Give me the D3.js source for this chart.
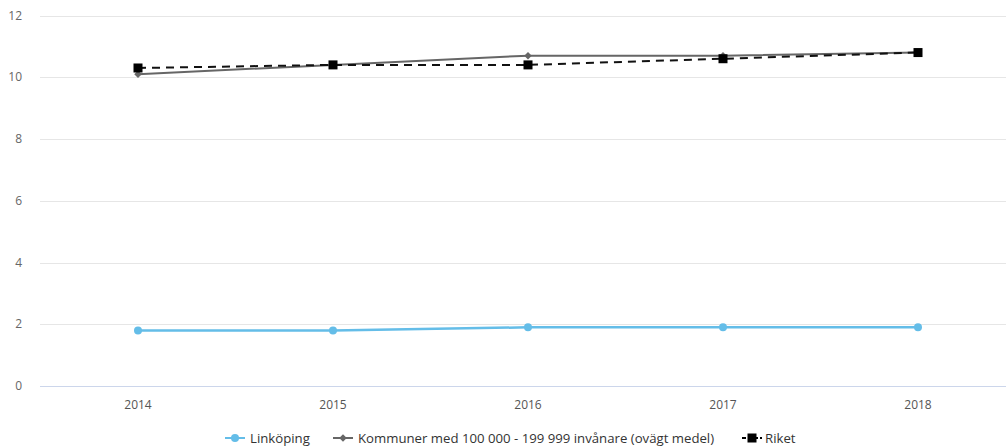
<!DOCTYPE html>
<html><head><meta charset="utf-8">
<script src="https://cdn.jsdelivr.net/npm/d3@7"></script>
<style>body{margin:0;background:#fff;} text{font-family:"Open Sans",sans-serif;}</style>
</head><body><svg id="c" width="1006" height="447"></svg>
<script>
const years = ["2014","2015","2016","2017","2018"];
const linkoping = [1.8, 1.8, 1.9, 1.9, 1.9];
const kommuner = [10.1, 10.4, 10.7, 10.7, 10.8];
const riket = [10.3, 10.4, 10.4, 10.6, 10.8];
const yTicks = [0, 2, 4, 6, 8, 10, 12];
const seriesNames = ["Linköping", "Kommuner med 100 000 - 199 999 invånare (ovägt medel)", "Riket"];

const svg = d3.select("#c");
const x = d3.scalePoint().domain(years).range([40.5, 1015.5]).padding(0.5);
const y = d3.scaleLinear().domain([0, 12]).range([386, 15.5]);

svg.append("g").selectAll("line").data(yTicks).join("line")
  .attr("x1", 40).attr("x2", 1006)
  .attr("y1", d => Math.round(y(d)) + 0.5).attr("y2", d => Math.round(y(d)) + 0.5)
  .attr("stroke", d => d === 0 ? "#ccd6eb" : "#e6e6e6").attr("stroke-width", 1);

svg.append("g").selectAll("text").data(yTicks).join("text")
  .attr("x", 22).attr("y", d => y(d) + 4).attr("text-anchor", "end")
  .attr("font-size", 12).attr("fill", "#666").text(d => d);

svg.append("g").selectAll("text").data(years).join("text")
  .attr("x", d => x(d)).attr("y", 409).attr("text-anchor", "middle")
  .attr("font-size", 12).attr("fill", "#555").text(d => d);

const line = d3.line().x((d, i) => x(years[i])).y(d => y(d));

svg.append("path").datum(linkoping).attr("d", line).attr("fill", "none")
  .attr("stroke", "#64bde8").attr("stroke-width", 2.5);
svg.append("g").selectAll("circle").data(linkoping).join("circle")
  .attr("cx", (d, i) => x(years[i])).attr("cy", d => y(d)).attr("r", 4).attr("fill", "#64bde8");

svg.append("path").datum(kommuner).attr("d", line).attr("fill", "none")
  .attr("stroke", "#666").attr("stroke-width", 2);
const diamond = d3.symbol().type(d3.symbolDiamond2).size(36);
svg.append("g").selectAll("path").data(kommuner).join("path")
  .attr("d", diamond).attr("transform", (d, i) => `translate(${x(years[i])},${y(d)})`).attr("fill", "#666");

svg.append("path").datum(riket).attr("d", line).attr("fill", "none")
  .attr("stroke", "#111").attr("stroke-width", 2).attr("stroke-dasharray", "8,6");
svg.append("g").selectAll("rect").data(riket).join("rect")
  .attr("x", (d, i) => x(years[i]) - 4.5).attr("y", d => y(d) - 4.5)
  .attr("width", 9).attr("height", 9).attr("fill", "#000");

const leg = svg.append("g");
const lx = [225, 333, 742];
const colors = ["#64bde8", "#666", "#000"];
seriesNames.forEach((n, i) => {
  const g = leg.append("g").attr("transform", `translate(${lx[i]},438)`);
  g.append("line").attr("x1", 0).attr("x2", 20).attr("y1", 0).attr("y2", 0)
    .attr("stroke", colors[i]).attr("stroke-width", 2).attr("stroke-dasharray", i === 2 ? "4,2" : null);
  if (i === 0) g.append("circle").attr("cx", 10).attr("cy", 0).attr("r", 4).attr("fill", colors[i]);
  if (i === 1) g.append("path").attr("d", diamond).attr("transform", "translate(10,0)").attr("fill", colors[i]);
  if (i === 2) g.append("rect").attr("x", 5.5).attr("y", -4.5).attr("width", 9).attr("height", 9).attr("fill", colors[i]);
  g.append("text").attr("x", i === 2 ? 23 : 25).attr("y", 5).attr("font-size", 13.2).attr("fill", "#333").text(n);
});
</script></body></html>
